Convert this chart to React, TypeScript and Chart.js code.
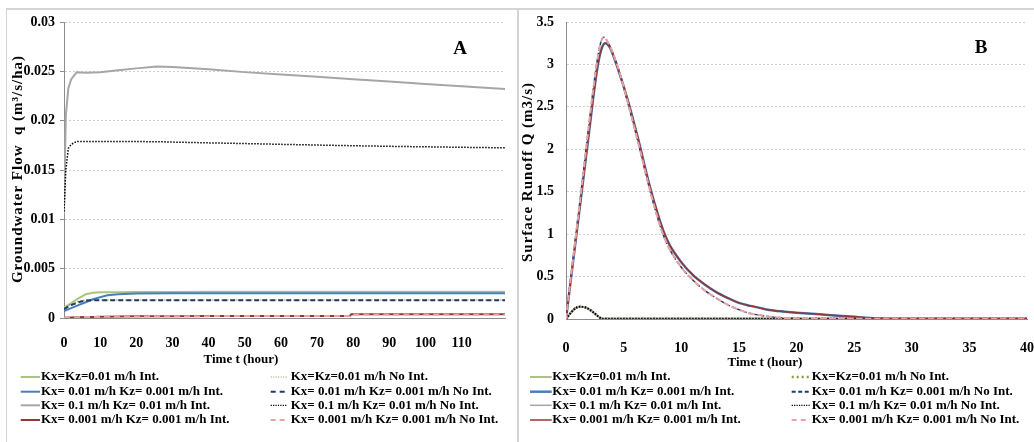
import React, { useEffect, useRef } from "react";
import { Chart, registerables } from "chart.js";

Chart.register(...registerables);

const SERIF = '"Liberation Serif", "DejaVu Serif", serif';

// ---------- shared legend labels ----------
const seriesLabels = [
  "Kx=Kz=0.01 m/h Int.",
  "Kx=Kz=0.01 m/h No Int.",
  "Kx= 0.01 m/h Kz= 0.001 m/h Int.",
  "Kx= 0.01 m/h Kz= 0.001 m/h No Int.",
  "Kx= 0.1 m/h Kz= 0.01 m/h Int.",
  "Kx= 0.1 m/h Kz= 0.01 m/h No Int.",
  "Kx= 0.001 m/h Kz= 0.001 m/h Int.",
  "Kx= 0.001 m/h Kz= 0.001 m/h No Int.",
];

// ---------- Panel A: groundwater flow ----------
const timeA_fast = [0, 0.5, 1.2, 2, 3.5, 6, 10, 15, 20, 25.7, 30, 40, 50, 60, 70, 80, 90, 100, 110, 122];
const grayIntA = [0.0105, 0.0205, 0.0233, 0.0242, 0.0249, 0.02485, 0.0249, 0.0251, 0.0253, 0.0255, 0.02543, 0.0252, 0.02492, 0.02468, 0.02444, 0.0242, 0.02396, 0.02372, 0.02348, 0.0232];
const blackNoIntA = [0.0108, 0.015, 0.0172, 0.0176, 0.0179, 0.0179, 0.0179, 0.01789, 0.01788, 0.01787, 0.01783, 0.01775, 0.01768, 0.0176, 0.01753, 0.01746, 0.0174, 0.01735, 0.0173, 0.01725];

const timeA_slow = [0, 2, 4, 6, 8, 10, 12, 15, 20, 30, 40, 50, 60, 70, 79, 79.5, 90, 100, 110, 122];
const greenIntA = [0.00105, 0.0015, 0.002, 0.0024, 0.00255, 0.0026, 0.0026, 0.00262, 0.00263, 0.00264, 0.00265, 0.00265, 0.00265, 0.00265, 0.00265, 0.00265, 0.00265, 0.00265, 0.00265, 0.00265];
const greenNoIntA = [0.001, 0.0014, 0.0017, 0.00181, 0.00182, 0.00182, 0.00182, 0.00182, 0.00182, 0.00182, 0.00182, 0.00182, 0.00182, 0.00182, 0.00182, 0.00182, 0.00182, 0.00182, 0.00182, 0.00182];
const blueIntA = [0.0007, 0.001, 0.0013, 0.0016, 0.0019, 0.0021, 0.0023, 0.0024, 0.00248, 0.0025, 0.0025, 0.0025, 0.0025, 0.0025, 0.0025, 0.0025, 0.0025, 0.0025, 0.0025, 0.0025];
const navyNoIntA = [0.0009, 0.0013, 0.0016, 0.00178, 0.0018, 0.0018, 0.0018, 0.0018, 0.0018, 0.0018, 0.0018, 0.0018, 0.0018, 0.0018, 0.0018, 0.0018, 0.0018, 0.0018, 0.0018, 0.0018];
const redIntA = [0.00003, 0.00006, 0.00008, 0.0001, 0.00011, 0.00012, 0.00013, 0.00015, 0.00017, 0.00019, 0.0002, 0.0002, 0.0002, 0.0002, 0.0002, 0.00038, 0.00038, 0.00038, 0.00038, 0.00038];
const pinkNoIntA = [0.00003, 0.00005, 0.00007, 0.00009, 0.0001, 0.00011, 0.00012, 0.00014, 0.00016, 0.00018, 0.00019, 0.0002, 0.0002, 0.0002, 0.0002, 0.00036, 0.00036, 0.00036, 0.00036, 0.00036];

const yTickValuesA = [0, 0.005, 0.01, 0.015, 0.02, 0.025, 0.03];
const yTickLabelsA = ["0", "0.005", "0.01", "0.015", "0.02", "0.025", "0.03"];
const xTicksA = [0, 10, 20, 30, 40, 50, 60, 70, 80, 90, 100, 110];
const xMaxA = 122;

// ---------- Panel B: surface runoff ----------
const timeB_int = [0, 0.5, 1, 1.5, 2, 2.5, 2.8, 3.1, 3.4, 3.8, 4.5, 5.4, 6.3, 7.2, 8, 8.5, 9, 10, 11, 12, 13, 14, 15, 16, 17, 18, 20, 22, 24, 26, 28, 30, 35, 40];
const runoffIntB = [0, 0.55, 1.1, 1.65, 2.2, 2.75, 3.02, 3.19, 3.25, 3.2, 2.95, 2.56, 2.1, 1.6, 1.22, 1.02, 0.87, 0.67, 0.52, 0.41, 0.32, 0.25, 0.19, 0.155, 0.125, 0.1, 0.075, 0.055, 0.035, 0.015, 0.003, 0.002, 0.002, 0.002];

const timeB_noint = [0, 0.5, 1, 1.5, 2, 2.5, 2.8, 3.0, 3.25, 3.6, 4.5, 5.4, 6.3, 7.2, 8, 8.5, 9, 10, 11, 12, 13, 14, 15, 16, 17, 18, 19, 20, 21, 22, 24, 26, 30, 35, 40];
const runoffNoIntB = [0, 0.58, 1.15, 1.72, 2.3, 2.85, 3.12, 3.25, 3.32, 3.27, 2.97, 2.53, 2.06, 1.56, 1.17, 0.97, 0.82, 0.61, 0.46, 0.34, 0.25, 0.17, 0.11, 0.065, 0.04, 0.022, 0.012, 0.006, 0.003, 0.002, 0.002, 0.002, 0.002, 0.002, 0.002];

const timeB_small = [0, 0.4, 0.8, 1.2, 1.6, 2, 2.4, 2.8, 3.1, 3.5, 5, 10, 15, 20, 25, 30, 35, 40];
const runoffSmallB = [0, 0.07, 0.125, 0.145, 0.14, 0.115, 0.075, 0.03, 0.005, 0.002, 0.002, 0.002, 0.002, 0.002, 0.002, 0.002, 0.002, 0.002];

const yTickValuesB = [0, 0.5, 1, 1.5, 2, 2.5, 3, 3.5];
const yTickLabelsB = ["0", "0.5", "1", "1.5", "2", "2.5", "3", "3.5"];
const xTicksB = [0, 5, 10, 15, 20, 25, 30, 35, 40];
const xMaxB = 40;

// ---------- styles ----------
const colors = ["#a9c47f", "#8a9b3c", "#4a7ebb", "#1f3a6b", "#a6a6a6", "#000000", "#943634", "#e6a3a1"];

type LineStyle = { width: number; dash: number[] };

const lineStylesA: LineStyle[] = [
  { width: 2, dash: [] },
  { width: 1.5, dash: [1, 2] },
  { width: 2, dash: [] },
  { width: 2, dash: [5, 3] },
  { width: 2, dash: [] },
  { width: 1.5, dash: [1.5, 1.5] },
  { width: 2, dash: [] },
  { width: 2, dash: [6, 4] },
];
const legendStylesA: LineStyle[] = [
  { width: 2, dash: [] },
  { width: 1.2, dash: [1, 1.5] },
  { width: 2, dash: [] },
  { width: 2, dash: [5, 4] },
  { width: 2, dash: [] },
  { width: 1.2, dash: [1.2, 1.2] },
  { width: 2, dash: [] },
  { width: 2, dash: [5, 4] },
];
const lineStylesB: LineStyle[] = [
  { width: 2, dash: [] },
  { width: 2.5, dash: [2.5, 3.5] },
  { width: 2.5, dash: [] },
  { width: 1.5, dash: [4, 2] },
  { width: 2, dash: [] },
  { width: 2, dash: [1.5, 1.5] },
  { width: 1.5, dash: [] },
  { width: 2, dash: [6, 3] },
];
const legendStylesB: LineStyle[] = [
  { width: 2, dash: [] },
  { width: 2.5, dash: [2, 3] },
  { width: 2.5, dash: [] },
  { width: 2, dash: [4, 2.5] },
  { width: 1.5, dash: [] },
  { width: 1.2, dash: [1.2, 1.2] },
  { width: 1.5, dash: [] },
  { width: 2, dash: [5, 4] },
];

type Panel = {
  series: { t: number[]; v: number[] }[];
  lineStyles: LineStyle[];
  legendStyles: LineStyle[];
  smooth: boolean;
  xMax: number;
  xTicks: number[];
  yMax: number;
  yTickValues: number[];
  yTickLabels: string[];
  yAxisWidth: number;
  yTickMarks: boolean;
  yTickPadding: number;
  xTickPadding: number;
  padding: { top: number; right: number; bottom: number; left: number };
  letter: string;
  letterPos: [number, number];
  xTitle: string;
  xTitlePos: [number, number];
  yTitle: string;
  yTitlePos: [number, number];
  legendY: number[];
  col1: [number, number, number];
  col2: [number, number, number];
};

const panelA: Panel = {
  series: [
    { t: timeA_slow, v: greenIntA },
    { t: timeA_slow, v: greenNoIntA },
    { t: timeA_slow, v: blueIntA },
    { t: timeA_slow, v: navyNoIntA },
    { t: timeA_fast, v: grayIntA },
    { t: timeA_fast, v: blackNoIntA },
    { t: timeA_slow, v: redIntA },
    { t: timeA_slow, v: pinkNoIntA },
  ],
  lineStyles: lineStylesA,
  legendStyles: legendStylesA,
  smooth: false,
  xMax: xMaxA,
  xTicks: xTicksA,
  yMax: 0.03,
  yTickValues: yTickValuesA,
  yTickLabels: yTickLabelsA,
  yAxisWidth: 57,
  yTickMarks: true,
  yTickPadding: 5,
  xTickPadding: 17,
  padding: { top: 12, right: 12, bottom: 85, left: 0 },
  letter: "A",
  letterPos: [453, 39],
  xTitle: "Time t (hour)",
  xTitlePos: [234, 350],
  yTitle: "Groundwater Flow  q (m\u00b3/s/ha)",
  yTitlePos: [11, 159],
  legendY: [367, 381.7, 395.3, 410],
  col1: [13.7, 33, 34],
  col2: [263.7, 280.3, 283.7],
};

const panelB: Panel = {
  series: [
    { t: timeB_small, v: runoffSmallB },
    { t: timeB_small, v: runoffSmallB },
    { t: timeB_int, v: runoffIntB },
    { t: timeB_noint, v: runoffNoIntB },
    { t: timeB_small, v: runoffSmallB },
    { t: timeB_small, v: runoffSmallB },
    { t: timeB_int, v: runoffIntB },
    { t: timeB_noint, v: runoffNoIntB },
  ],
  lineStyles: lineStylesB,
  legendStyles: legendStylesB,
  smooth: true,
  xMax: xMaxB,
  xTicks: xTicksB,
  yMax: 3.5,
  yTickValues: yTickValuesB,
  yTickLabels: yTickLabelsB,
  yAxisWidth: 47,
  yTickMarks: false,
  yTickPadding: 12,
  xTickPadding: 21,
  padding: { top: 12, right: 7, bottom: 84, left: 0 },
  letter: "B",
  letterPos: [462, 38],
  xTitle: "Time t (hour)",
  xTitlePos: [246, 353],
  yTitle: "Surface Runoff Q (m3/s)",
  yTitlePos: [9, 162],
  legendY: [367, 381.7, 395.3, 410],
  col1: [11, 32.7, 33.3],
  col2: [272.7, 291, 292.7],
};

function makeOverlay(p: Panel) {
  return {
    id: "overlay" + p.letter,
    afterDraw(chart: any) {
      const ctx: CanvasRenderingContext2D = chart.ctx;
      ctx.save();
      ctx.fillStyle = "#000";
      ctx.textBaseline = "middle";
      ctx.textAlign = "center";
      ctx.font = `bold 19px ${SERIF}`;
      ctx.fillText(p.letter, p.letterPos[0], p.letterPos[1]);
      ctx.font = `bold 13px ${SERIF}`;
      ctx.fillText(p.xTitle, p.xTitlePos[0], p.xTitlePos[1]);
      ctx.save();
      ctx.translate(p.yTitlePos[0], p.yTitlePos[1]);
      ctx.rotate(-Math.PI / 2);
      ctx.font = `bold 15px ${SERIF}`;
      (ctx as any).letterSpacing = "1px";
      ctx.fillText(p.yTitle, 0, 0);
      ctx.restore();
      chart.data.datasets.forEach((ds: any, i: number) => {
        const row = Math.floor(i / 2);
        const col = i % 2 === 0 ? p.col1 : p.col2;
        const y = p.legendY[row];
        const st = p.legendStyles[i];
        ctx.beginPath();
        ctx.setLineDash(st.dash);
        ctx.lineWidth = st.width;
        ctx.strokeStyle = ds.borderColor;
        ctx.moveTo(col[0], y);
        ctx.lineTo(col[1], y);
        ctx.stroke();
        ctx.setLineDash([]);
        ctx.textAlign = "left";
        ctx.font = `bold 13px ${SERIF}`;
        ctx.fillText(ds.label, col[2], y);
      });
      ctx.restore();
    },
  };
}

function buildChart(canvas: HTMLCanvasElement, p: Panel) {
  const n = p.series.length;
  const datasets = p.series.map((s, i) => ({
    label: seriesLabels[i],
    data: s.t.map((x, j) => ({ x, y: s.v[j] })),
    borderColor: colors[i],
    backgroundColor: colors[i],
    borderWidth: p.lineStyles[i].width,
    borderDash: p.lineStyles[i].dash,
    pointRadius: 0,
    fill: false,
    cubicInterpolationMode: p.smooth ? ("monotone" as const) : ("default" as const),
    tension: 0,
    order: n - i,
  }));
  const tickFont = { family: SERIF, size: 14, weight: "bold" as const };
  return new Chart(canvas, {
    type: "line",
    data: { datasets },
    plugins: [makeOverlay(p)],
    options: {
      responsive: false,
      animation: false,
      events: [],
      layout: { padding: p.padding },
      plugins: { legend: { display: false }, tooltip: { enabled: false } },
      scales: {
        x: {
          type: "linear",
          min: 0,
          max: p.xMax,
          afterBuildTicks: (s: any) => {
            s.ticks = p.xTicks.map((v) => ({ value: v }));
          },
          afterFit: (s: any) => {
            s.height = 40;
            s.paddingLeft = 0;
            s.paddingRight = 0;
          },
          ticks: {
            font: tickFont,
            color: "#000",
            padding: p.xTickPadding,
            maxRotation: 0,
            autoSkip: false,
            callback: (v: any) => String(v),
          },
          grid: { display: false, drawTicks: false },
          border: { display: true, color: "#8c8c8c", width: 1 },
        },
        y: {
          type: "linear",
          min: 0,
          max: p.yMax,
          afterBuildTicks: (s: any) => {
            s.ticks = p.yTickValues.map((v) => ({ value: v }));
          },
          afterFit: (s: any) => {
            s.width = p.yAxisWidth;
            s.paddingTop = 0;
            s.paddingBottom = 0;
          },
          ticks: {
            font: tickFont,
            color: "#000",
            padding: p.yTickPadding,
            callback: (_v: any, idx: number) => p.yTickLabels[idx],
          },
          grid: {
            color: "#d0d0d0",
            lineWidth: 1,
            drawTicks: p.yTickMarks,
            tickLength: 4,
            tickColor: "#8c8c8c",
          },
          border: { display: true, color: "#8c8c8c", width: 1, dash: [2, 2] },
        },
      },
    },
  } as any);
}

export default function App() {
  const refA = useRef<HTMLCanvasElement>(null);
  const refB = useRef<HTMLCanvasElement>(null);
  useEffect(() => {
    const a = buildChart(refA.current!, panelA);
    const b = buildChart(refB.current!, panelB);
    return () => {
      a.destroy();
      b.destroy();
    };
  }, []);
  return (
    <div style={{ position: "fixed", left: 0, top: 0, width: 1034, height: 442, overflow: "hidden", background: "#fff" }}>
      <div style={{ position: "absolute", left: 6, top: 8, width: 1040, height: 440, borderLeft: "1px solid #d4d4d4", borderTop: "2px solid #d4d4d4" }} />
      <div style={{ position: "absolute", left: 517, top: 8, width: 2, height: 440, background: "#d4d4d4" }} />
      <canvas ref={refA} width={510} height={433} style={{ position: "absolute", left: 7, top: 10, width: 510, height: 433 }} />
      <canvas ref={refB} width={515} height={433} style={{ position: "absolute", left: 519, top: 10, width: 515, height: 433 }} />
    </div>
  );
}
